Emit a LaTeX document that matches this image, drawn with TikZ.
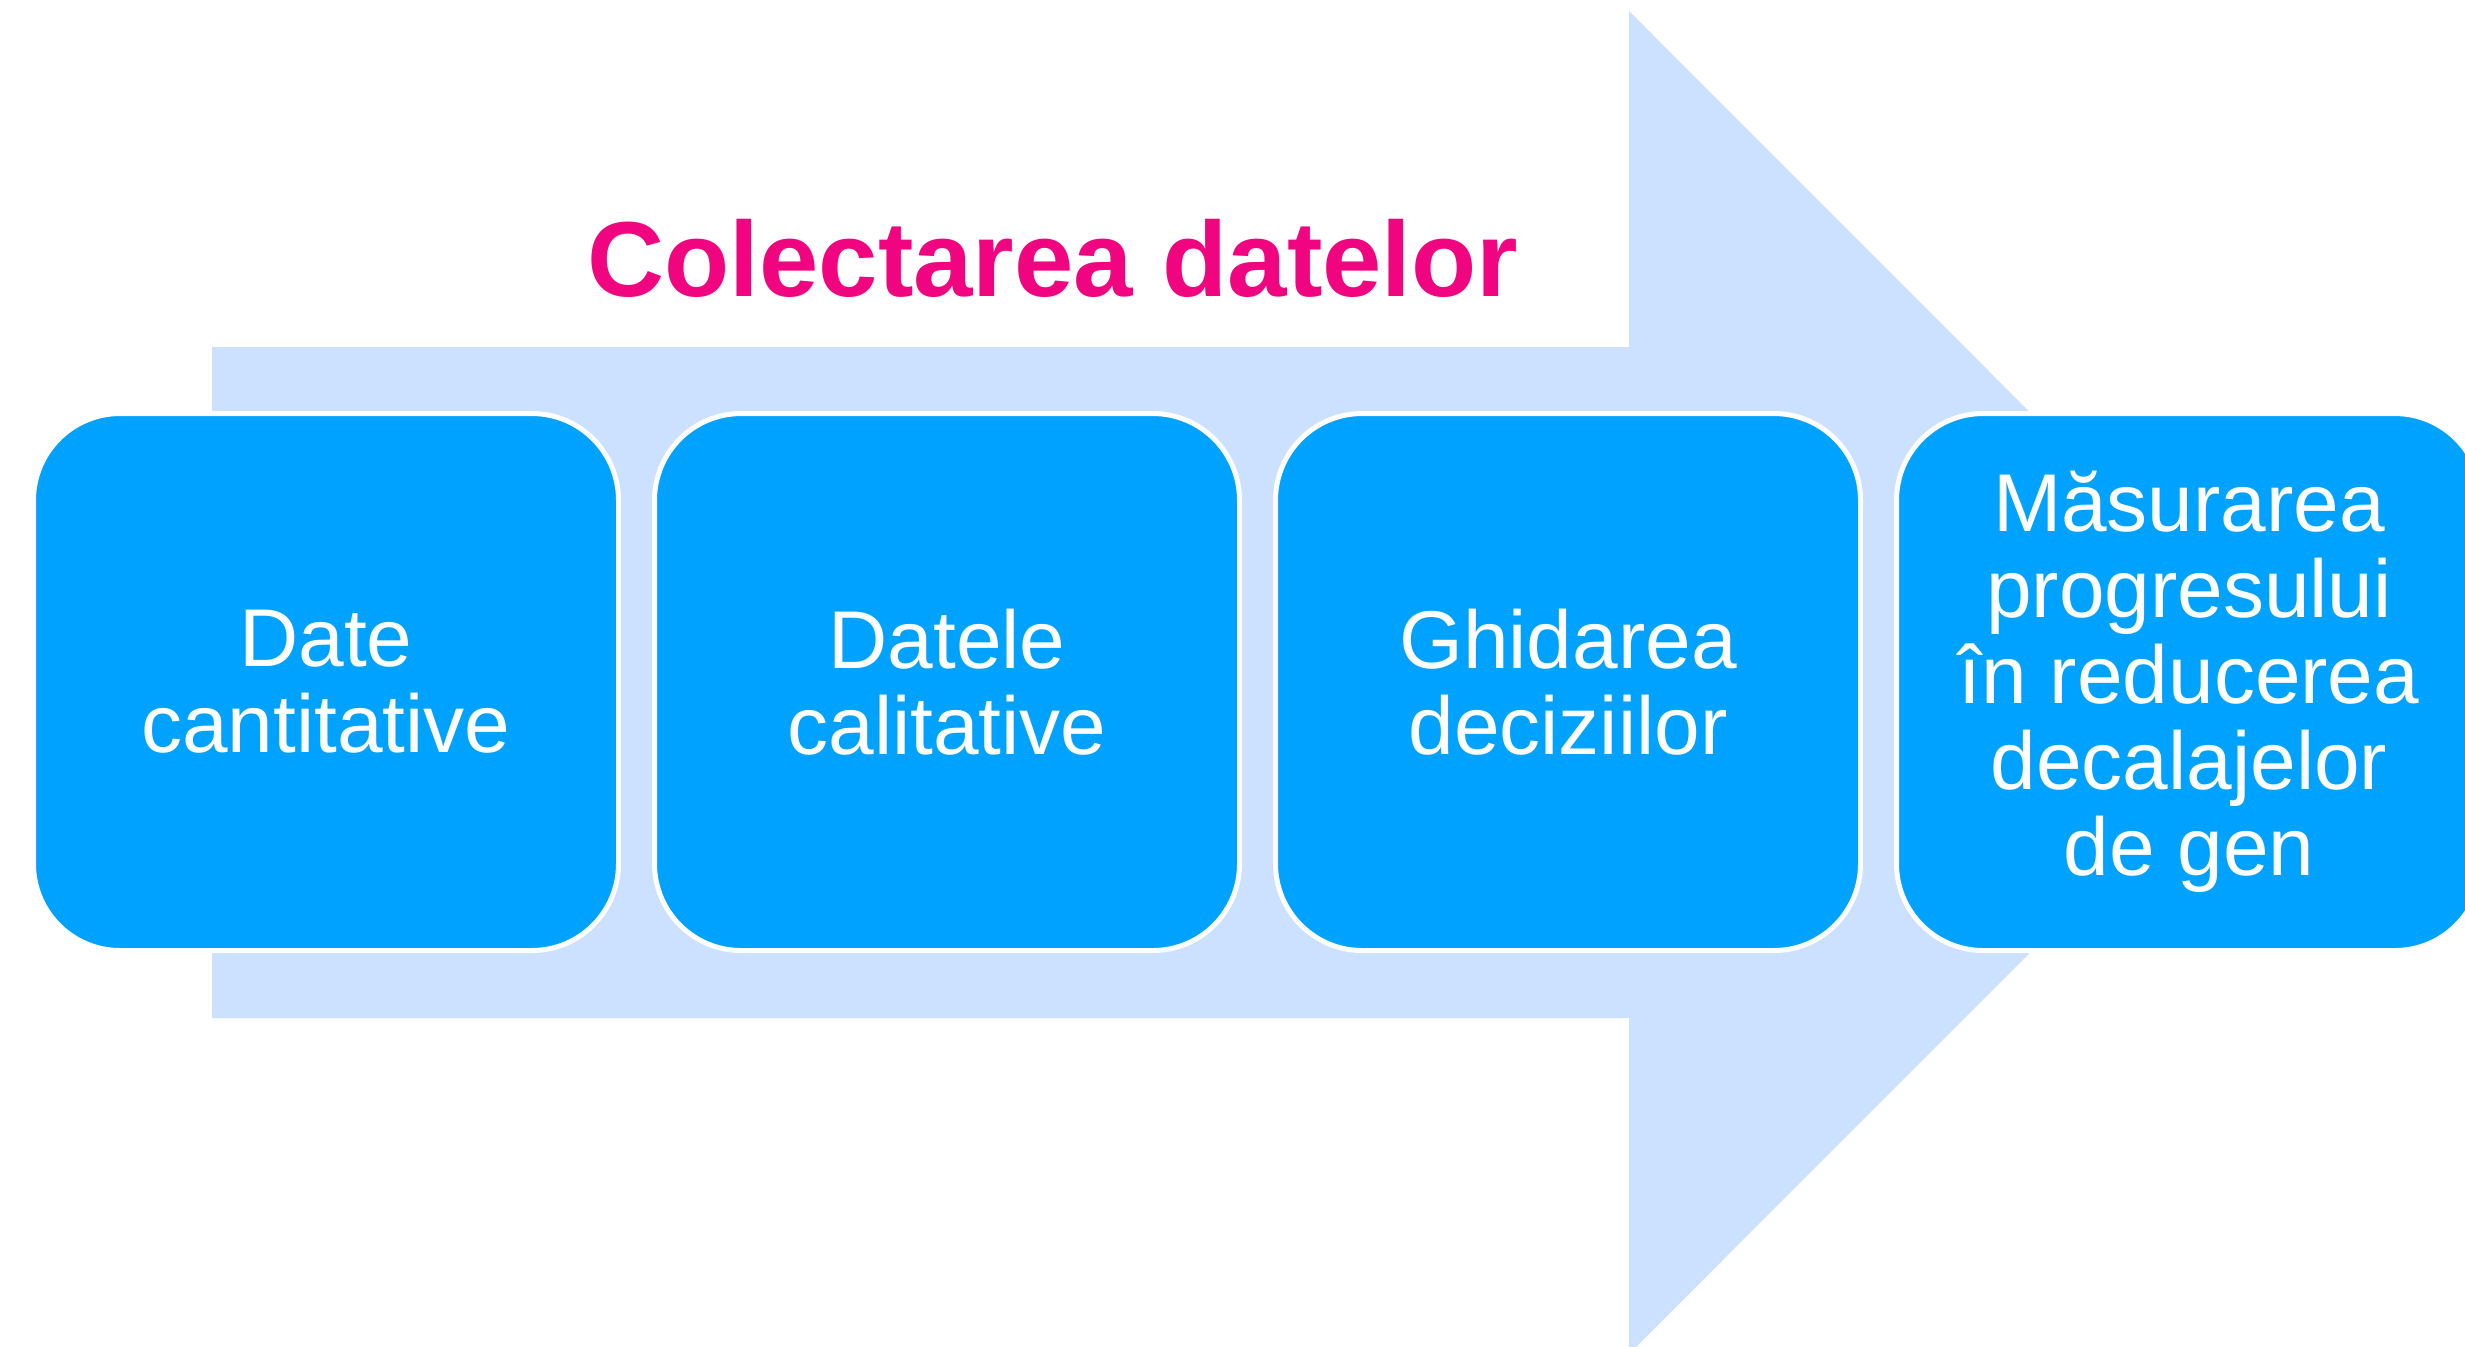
\documentclass[tikz,border=0pt]{standalone}
\usepackage{fontspec}
\setmainfont{Liberation Sans}
\definecolor{arrowblue}{RGB}{204,224,255}
\definecolor{boxblue}{RGB}{0,162,255}
\definecolor{titlepink}{RGB}{240,4,127}
\begin{document}
\begin{tikzpicture}[x=0.3pt,y=-0.3pt,
  stepbox/.style={draw=white, line width=1.5pt, fill=boxblue, rounded corners=26pt,
    minimum width=175.5pt, minimum height=161.1pt, inner sep=0pt, align=center,
    text=white, font=\fontsize{24.6pt}{25.8pt}\selectfont},
  titletext/.style={text=titlepink, font=\fontsize{32pt}{36pt}\selectfont\bfseries, inner sep=0pt}]
\useasboundingbox (0,0) rectangle (2465,1346);
\clip (0,0) rectangle (2465,1346);
\fill[arrowblue] (212,347) -- (1629,347) -- (1629,11) -- (2300,682.5) -- (1629,1354) -- (1629,1018) -- (212,1018) -- cycle;
\node[titletext, anchor=base] (title) at (1053,296) {Colectarea datelor};
\node[stepbox] (b1) at (326,682) {Date\\cantitative};
\node[stepbox] (b2) at (947,682) {Datele\\calitative};
\node[stepbox] (b3) at (1568,682) {Ghidarea\\deciziilor};
\node[stepbox] (b4) at (2189,682) {Măsurarea\\progresului\\în reducerea\\decalajelor\\de gen};
\end{tikzpicture}
\end{document}
